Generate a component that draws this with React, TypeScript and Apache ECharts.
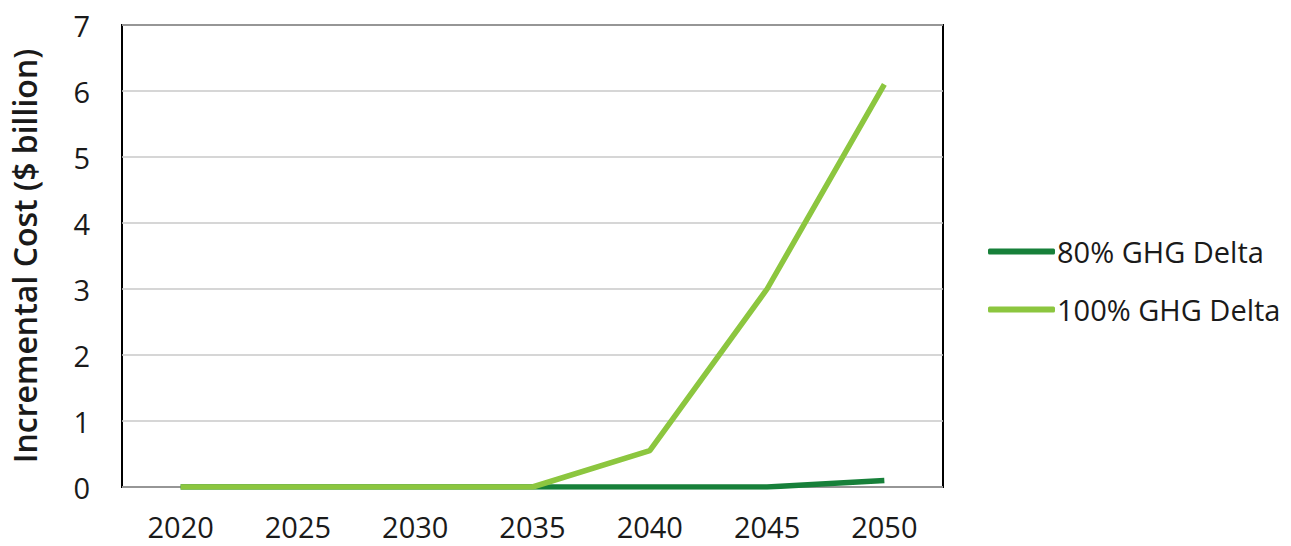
import React, { useEffect, useRef } from "react";
import * as echarts from "echarts";

const years = ["2020", "2025", "2030", "2035", "2040", "2045", "2050"];
const ghg80 = [0, 0, 0, 0, 0, 0, 0.1];
const ghg100 = [0, 0, 0, 0, 0.55, 3.0, 6.1];
const yTicks = { min: 0, max: 7, interval: 1 };

const FONT = "'Open Sans', 'Noto Sans', sans-serif";

export default function App() {
  const ref = useRef<HTMLDivElement>(null);
  useEffect(() => {
    if (!ref.current) return;
    const chart = echarts.init(ref.current, null, { renderer: "svg" });
    chart.setOption({
      animation: false,
      backgroundColor: "#ffffff",
      textStyle: { fontFamily: FONT },
      grid: {
        left: 121,
        top: 25,
        right: 348,
        bottom: 59,
        show: true,
        borderColor: "#000000",
        borderWidth: 2,
        backgroundColor: "transparent",
      },
      legend: {
        orient: "vertical",
        left: 983,
        top: 232,
        itemGap: 29,
        itemWidth: 67,
        itemHeight: 6,
        icon: "roundRect",
        textStyle: { fontFamily: FONT, fontSize: 29, color: "#1a1a1a", padding: [0, 0, 0, -3] },
        data: ["80% GHG Delta", "100% GHG Delta"],
      },
      xAxis: {
        type: "category",
        data: years,
        boundaryGap: true,
        axisLine: { show: false },
        axisTick: { show: false },
        axisLabel: { fontFamily: FONT, fontSize: 29, color: "#1a1a1a", margin: 25 },
      },
      yAxis: {
        type: "value",
        min: yTicks.min,
        max: yTicks.max,
        interval: yTicks.interval,
        name: "Incremental Cost ($ billion)",
        nameLocation: "middle",
        nameGap: 82,
        nameTextStyle: { fontFamily: FONT, fontSize: 32, fontWeight: 600, color: "#1a1a1a" },
        axisLine: { show: false },
        axisTick: { show: false },
        axisLabel: { fontFamily: FONT, fontSize: 29, color: "#1a1a1a", margin: 32 },
        splitLine: { lineStyle: { color: "#c8c8c8", width: 1.5 } },
      },
      series: [
        {
          name: "80% GHG Delta",
          type: "line",
          data: ghg80,
          showSymbol: false,
          symbol: "none",
          color: "#17803a",
          lineStyle: { color: "#17803a", width: 5.5 },
        },
        {
          name: "100% GHG Delta",
          type: "line",
          data: ghg100,
          showSymbol: false,
          symbol: "none",
          color: "#8cc63f",
          lineStyle: { color: "#8cc63f", width: 5.5 },
        },
      ],
    });
    return () => chart.dispose();
  }, []);
  return (
    <div
      ref={ref}
      style={{ position: "fixed", left: 0, top: 0, width: 1291, height: 546 }}
    />
  );
}
